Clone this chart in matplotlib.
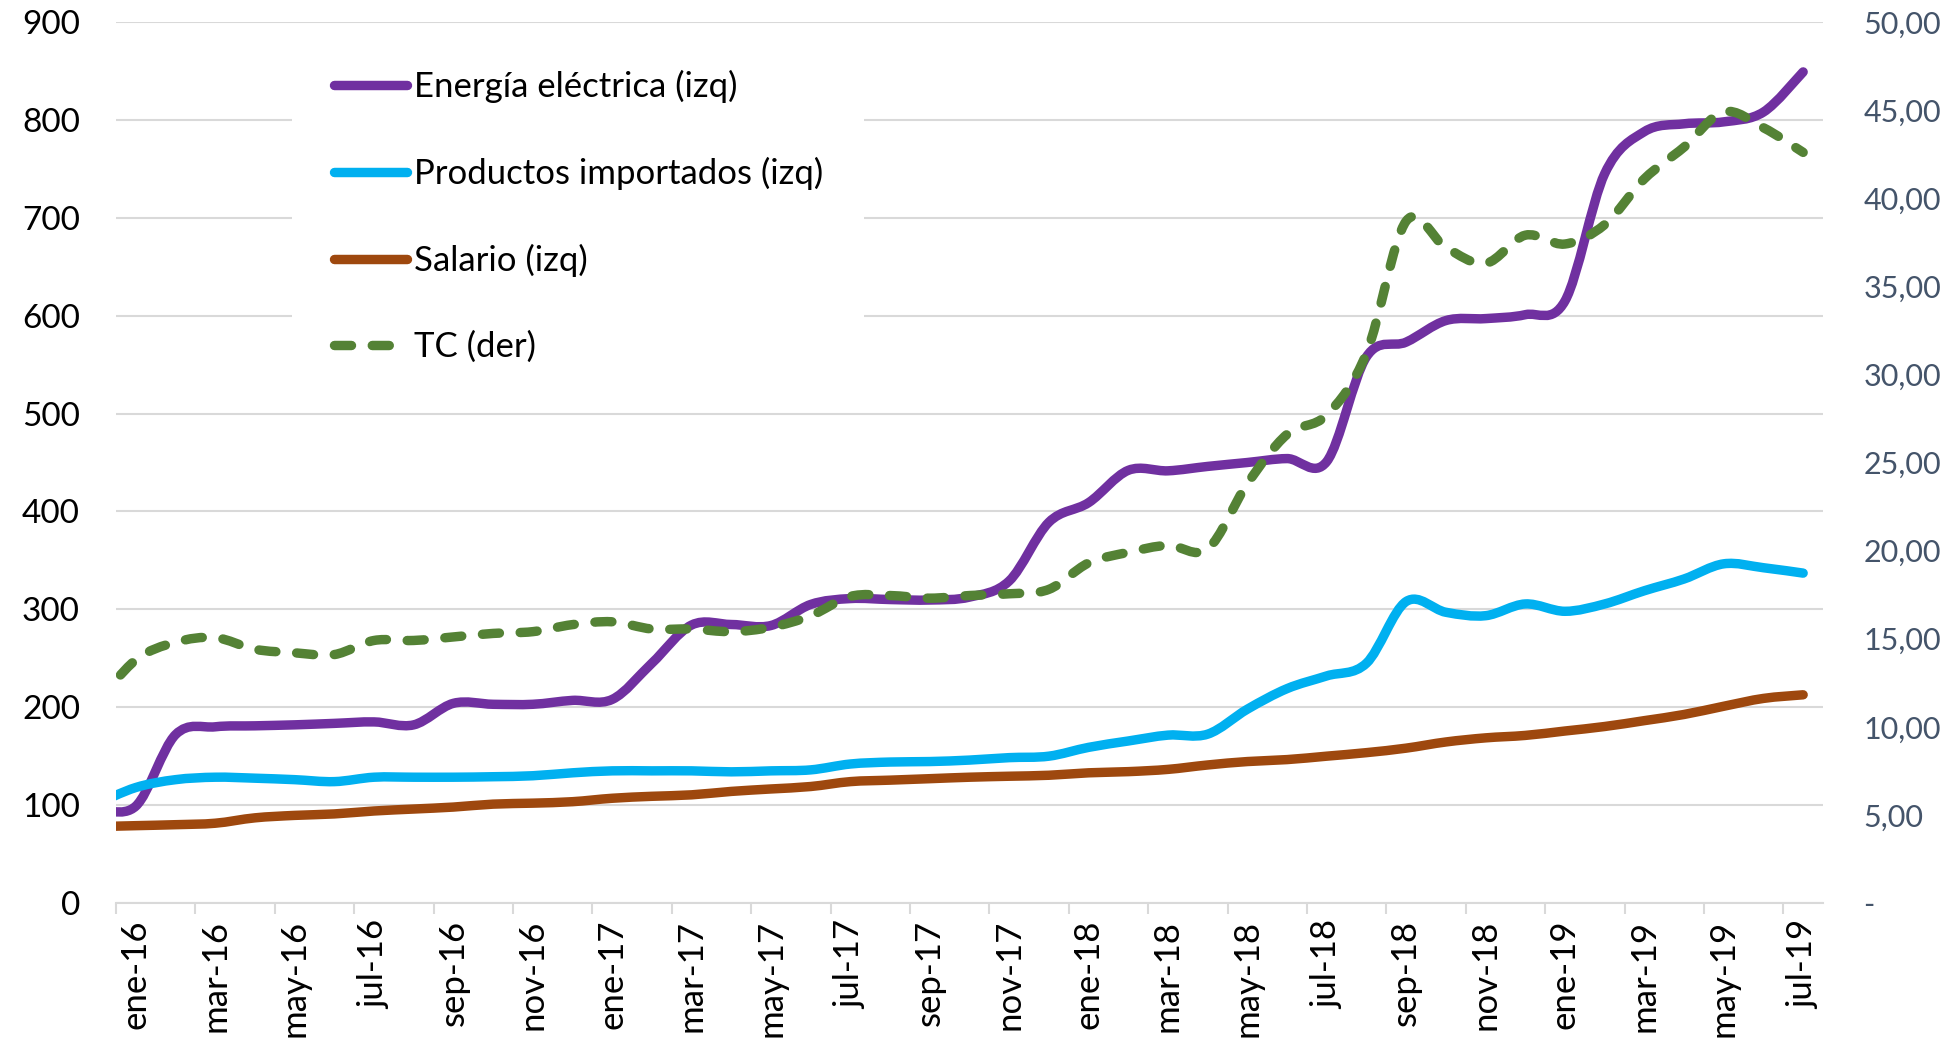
import numpy as np
import matplotlib
matplotlib.use("Agg")
import matplotlib.pyplot as plt
from matplotlib.path import Path
from matplotlib.patches import PathPatch
from matplotlib.lines import Line2D

plt.rcParams['font.family'] = ['Lato', 'DejaVu Sans']

# ---------------- data ----------------
months = ["dic-15",
          "ene-16", "feb-16", "mar-16", "abr-16", "may-16", "jun-16", "jul-16", "ago-16", "sep-16", "oct-16", "nov-16", "dic-16",
          "ene-17", "feb-17", "mar-17", "abr-17", "may-17", "jun-17", "jul-17", "ago-17", "sep-17", "oct-17", "nov-17", "dic-17",
          "ene-18", "feb-18", "mar-18", "abr-18", "may-18", "jun-18", "jul-18", "ago-18", "sep-18", "oct-18", "nov-18", "dic-18",
          "ene-19", "feb-19", "mar-19", "abr-19", "may-19", "jun-19", "jul-19"]

energia = [97,
           99, 172, 180, 181, 182, 183.5, 185, 182, 204, 203, 203, 207,
           208, 245, 284, 284.5, 283.5, 305, 311, 310, 309.5, 312.5, 329, 389,
           409, 442, 441.5, 446, 450, 454, 451, 558, 573, 595, 597, 601,
           615, 745, 788, 796, 798, 808, 849]

importados = [101,
              118, 126, 128.5, 127.5, 126, 124, 128.5, 128.5, 128.5, 129, 130, 133,
              135, 135, 135, 134, 135, 136, 142, 144, 144.5, 146, 148.5, 150,
              159, 165.5, 171.5, 172.5, 198, 219, 232, 245, 308, 297, 293.5, 305.5,
              298, 305.5, 319, 331, 346.5, 342.5, 337]

salario = [78,
           79, 80, 81.5, 87, 89.5, 91, 94, 96, 98, 101, 102, 103.5,
           107, 109, 110.5, 114, 116.5, 119, 124, 125.5, 127, 128.5, 129.5, 130.5,
           133, 134.2, 136.5, 141, 144.5, 146.5, 150, 153.6, 158.2, 164.5, 168.7, 171.2,
           175.7, 180.3, 186.3, 192.6, 201, 209, 212.7]

tc = [11.3,
      13.8, 14.8, 15.06, 14.4, 14.2, 14.1, 14.9, 14.9, 15.1, 15.3, 15.4, 15.8,
      15.96, 15.55, 15.55, 15.4, 15.65, 16.3, 17.4, 17.45, 17.3, 17.45, 17.55, 17.8,
      19.3, 19.9, 20.3, 20.1, 23.8, 26.6, 27.7, 31.2, 38.7, 37.2, 36.3, 37.9,
      37.4, 38.5, 41.1, 42.9, 44.9, 44.0, 42.6]

series_names = ["Energía eléctrica (izq)", "Productos importados (izq)", "Salario (izq)", "TC (der)"]
left_ticks = list(range(0, 1000, 100))
right_ticks = list(range(0, 55, 5))
right_labels = ["-"] + [f"{v},00" for v in right_ticks[1:]]

# ---------------- styling ----------------
C_PURPLE = "#7030A0"
C_CYAN = "#00B0F0"
C_BROWN = "#9E480E"
C_GREEN = "#548235"
C_GRID = "#D9D9D9"
C_RIGHT = "#44546A"
LW = 6.8
DASH = (1.8, 2.2)


def smooth_path(x, y):
    P = np.column_stack([x, y]).astype(float)
    n = len(P)
    verts = [P[0]]
    codes = [Path.MOVETO]
    for i in range(n - 1):
        p0 = P[i - 1] if i > 0 else P[i]
        p1 = P[i]
        p2 = P[i + 1]
        p3 = P[i + 2] if i + 2 < n else P[i + 1]
        c1 = p1 + (p2 - p0) / 6.0
        c2 = p2 - (p3 - p1) / 6.0
        verts += [c1, c2, p2]
        codes += [Path.CURVE4] * 3
    return Path(verts, codes)


fig = plt.figure(figsize=(19.41, 10.38), dpi=100)
ax = fig.add_axes([116 / 1941, (1038 - 903) / 1038, (1823 - 116) / 1941, (903 - 22) / 1038])
ax2 = ax.twinx()

x = np.arange(len(months)) - 1  # category index, ene-16 = 0

for vals, col in [(energia, C_PURPLE), (importados, C_CYAN), (salario, C_BROWN)]:
    ax.add_patch(PathPatch(smooth_path(x, vals), facecolor="none", edgecolor=col, lw=LW,
                           capstyle="round", joinstyle="round"))
ax2.add_patch(PathPatch(smooth_path(x, tc), facecolor="none", edgecolor=C_GREEN, lw=LW,
                        linestyle=(0, DASH), capstyle="round", joinstyle="round"))

ax.set_xlim(-0.5, len(months) - 1.5)
ax.set_ylim(0, 900)
ax2.set_ylim(0, 50)

ax.set_yticks(left_ticks)
ax.set_yticklabels([str(v) for v in left_ticks])
ax2.set_yticks(right_ticks)
ax2.set_yticklabels(right_labels)

# x ticks: marks at bimonthly boundaries, labels centred on months
ax.set_xticks(np.arange(-0.5, len(months) - 2, 2))
ax.set_xticklabels([])
lab_pos = x[1::2]
ax.set_xticks(lab_pos, minor=True)
ax.set_xticklabels([months[i] for i in range(1, len(months), 2)], minor=True, rotation=90)

ax.tick_params(axis="x", which="major", length=8, width=1.5, color=C_GRID, direction="out")
ax.tick_params(axis="x", which="minor", length=0, labelsize=25, pad=12, labelcolor="black")
ax.tick_params(axis="y", length=0, labelsize=24, pad=26, labelcolor="black")
ax2.tick_params(axis="y", length=0, labelsize=22, pad=29, labelcolor=C_RIGHT)

ax.yaxis.grid(True, color=C_GRID, lw=1.5)
ax.set_axisbelow(True)
for s in ["left", "right", "top"]:
    ax.spines[s].set_visible(False)
ax.spines["bottom"].set_color(C_GRID)
ax.spines["bottom"].set_linewidth(1.5)
for s in ax2.spines.values():
    s.set_visible(False)

handles = [Line2D([], [], color=C_PURPLE, lw=LW, solid_capstyle="round"),
           Line2D([], [], color=C_CYAN, lw=LW, solid_capstyle="round"),
           Line2D([], [], color=C_BROWN, lw=LW, solid_capstyle="round"),
           Line2D([], [], color=C_GREEN, lw=LW, dashes=DASH, dash_capstyle="round")]
leg = ax2.legend(handles, series_names, loc="upper left",
                 bbox_to_anchor=(292 / 1941, 1 - 28 / 1038), bbox_transform=fig.transFigure,
                 borderaxespad=0, borderpad=1.2, fontsize=25, handlelength=2.1,
                 handletextpad=0.2, labelspacing=1.55, frameon=True, fancybox=False,
                 facecolor="white", edgecolor="none", framealpha=1)

fig.savefig("out.png", dpi=100)
